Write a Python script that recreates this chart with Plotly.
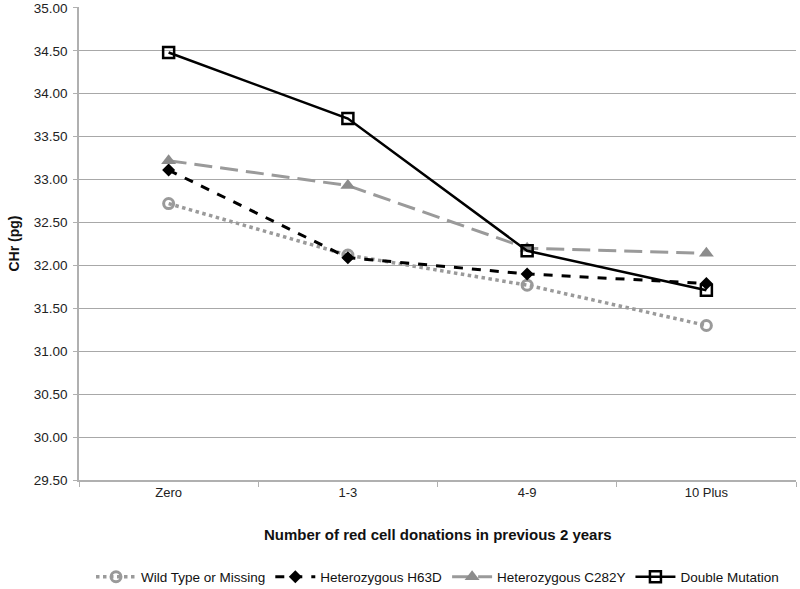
import plotly.graph_objects as go

categories = ["Zero", "1-3", "4-9", "10 Plus"]
wild_type = [32.72, 32.12, 31.77, 31.30]
h63d = [33.11, 32.09, 31.90, 31.79]
c282y = [33.22, 32.93, 32.20, 32.14]
double_mut = [34.48, 33.71, 32.17, 31.71]

fig = go.Figure()
fig.add_trace(go.Scatter(
    x=categories, y=wild_type, name="Wild Type or Missing", mode="lines+markers",
    line=dict(color="#9a9a9a", width=3.5, dash="dot"),
    marker=dict(symbol="circle-open", size=10, color="#9a9a9a", line=dict(width=3, color="#9a9a9a"))))
fig.add_trace(go.Scatter(
    x=categories, y=h63d, name="Heterozygous H63D", mode="lines+markers",
    line=dict(color="#000000", width=3, dash="dash"),
    marker=dict(symbol="diamond", size=10, color="#000000")))
fig.add_trace(go.Scatter(
    x=categories, y=c282y, name="Heterozygous C282Y", mode="lines+markers",
    line=dict(color="#9a9a9a", width=3, dash="18px,8px"),
    marker=dict(symbol="triangle-up", size=13, color="#8c8c8c")))
fig.add_trace(go.Scatter(
    x=categories, y=double_mut, name="Double Mutation", mode="lines+markers",
    line=dict(color="#000000", width=2.5),
    marker=dict(symbol="square-open", size=11, color="#000000", line=dict(width=2.5, color="#000000"))))

fig.update_layout(
    width=800, height=589,
    margin=dict(l=79, r=4, t=7, b=109),
    plot_bgcolor="white", paper_bgcolor="white",
    font=dict(family="Liberation Sans, Arial, sans-serif", size=13, color="#222222"),
    showlegend=True,
    legend=dict(orientation="h", x=0.5, xanchor="center", yref="container", y=12/589, yanchor="middle",
                font=dict(size=13.5, color="#111111"), itemwidth=40, tracegroupgap=0),
    xaxis=dict(type="category", showgrid=False, showline=True, linecolor="#b0b0b0", linewidth=1.5,
               ticks="outside", tickson="boundaries", ticklen=5, tickcolor="#b0b0b0", automargin=False,
               tickfont=dict(size=13, color="#222222"), range=[-0.5, 3.5]),
    yaxis=dict(range=[29.5, 35.01], tick0=29.5, dtick=0.5, tickformat=".2f", showgrid=True,
               gridcolor="#a8a8a8", gridwidth=1.3, showline=True, linecolor="#b0b0b0", linewidth=1.5,
               ticks="outside", ticklen=4, tickcolor="#b0b0b0", zeroline=False, automargin=False,
               ticklabelstandoff=3,
               tickfont=dict(size=13.5, color="#222222")),
    annotations=[
        dict(text="<b>Number of red cell donations in previous 2 years</b>", xref="paper", yref="paper",
             x=0.5, y=-54/473, xanchor="center", yanchor="middle", showarrow=False,
             font=dict(size=15, color="#111111")),
        dict(text="<b>CHr (pg)</b>", xref="paper", yref="paper", x=0, y=0.5,
             xanchor="center", yanchor="middle", textangle=-90, showarrow=False,
             xshift=-66, font=dict(size=14, color="#111111")),
    ],
)

fig.write_html("out.html", config={"displayModeBar": False},
               post_script="document.body.style.margin='0';document.body.style.padding='0';")
